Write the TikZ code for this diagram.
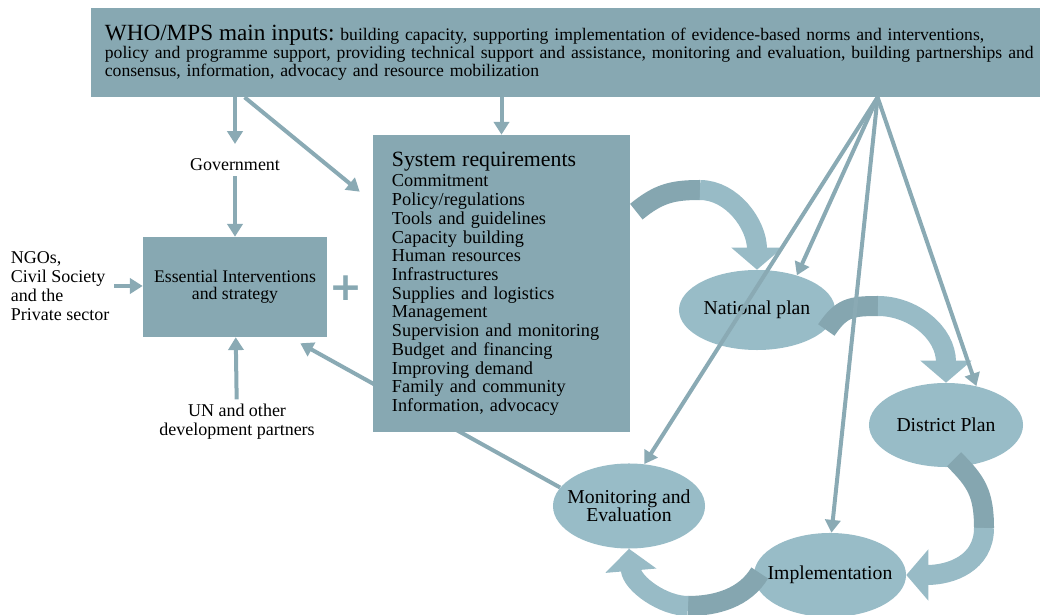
\documentclass[tikz,border=0pt]{standalone}
\usepackage{fontspec}
\setmainfont{Liberation Serif}
\newfontfamily\plusfont{DejaVu Sans}
\usetikzlibrary{arrows.meta,shapes.geometric,calc,backgrounds}
\definecolor{boxblue}{RGB}{135,168,178}
\definecolor{ovalblue}{RGB}{152,188,199}
\definecolor{bendlight}{RGB}{152,187,198}
\definecolor{benddark}{RGB}{133,166,176}
\definecolor{feedblue}{RGB}{138,170,180}
\tikzset{
  panel/.style={fill=boxblue, inner sep=0pt},
  oval/.style={ellipse, fill=ovalblue, inner xsep=-0.6cm, inner ysep=0pt, align=center, font=\fontsize{14}{12.8}\selectfont},
  side/.style={align=center, font=\fontsize{12.8}{13.5}\selectfont},
  feed/.style={draw=feedblue, line width=0.1cm, -{Triangle[width=0.38cm,length=0.32cm]}},
  bendtail/.style={draw=benddark, line width=0.5cm},
  bendhead/.style={draw=bendlight, line width=0.5cm, -{Triangle[width=1.25cm,length=0.55cm]}}
}
\begin{document}
\begin{tikzpicture}[x=0.025cm, y=-0.025cm]
\useasboundingbox (0,0) rectangle (1040,615);
% boxes
\node[panel, minimum width=23.725cm, minimum height=2.225cm, inner xsep=0.35cm, text width=23.025cm, align=left, font=\fontsize{12.55}{12.9}\selectfont] (top) at (565.5,52.5)
  {\mbox{{\fontsize{16.5}{16}\selectfont WHO/MPS main inputs:}\ building capacity, supporting implementation of evidence-based norms and interventions,}\\
   \mbox{policy and programme support, providing technical support and assistance, monitoring and evaluation, building partnerships and}\\
   consensus, information, advocacy and resource mobilization};
\node[panel, minimum width=4.6cm, minimum height=2.5cm, align=center, font=\fontsize{12.6}{12.3}\selectfont] (ess) at (235,287) {Essential Interventions\\and strategy};
\node[panel, minimum width=6.425cm, minimum height=7.425cm, inner xsep=0.475cm, text width=5.475cm, align=left, font=\fontsize{13}{13.3}\selectfont] (sys) at (501.5,283.5)
  {{\fontsize{15.5}{15}\selectfont System requirements}\\[1.6pt]
   Commitment\\ Policy/regulations\\ Tools and guidelines\\ Capacity building\\ Human resources\\ Infrastructures\\
   Supplies and logistics\\ Management\\ Supervision and monitoring\\ Budget and financing\\ Improving demand\\
   Family and community\\ Information, advocacy};
% cycle
\node[oval, minimum width=3.9cm, minimum height=2cm] (nat) at (757,310) {National plan};
\node[oval, minimum width=3.85cm, minimum height=2.1cm] (dis) at (946,425) {District Plan};
\node[oval, minimum width=3.8cm, minimum height=2.1cm] (imp) at (830,575) {Implementation};
\node[oval, minimum width=3.8cm, minimum height=2.125cm] (mon) at (629,506) {Monitoring and\\Evaluation};
% actors
\node[side] (gov) at (235,165) {Government};
\node[side] (un) at (237,422) {UN and other\\development partners};
\node[side, align=left, anchor=west] (ngo) at (6,286) {NGOs,\\Civil Society\\and the\\Private sector};
\node[text=boxblue, font=\plusfont\bfseries\fontsize{28}{28}\selectfont] (plus) at (346,288) {+};
\begin{pgfonlayer}{background}
  \draw[feed] (mon.165) -- ($(ess.south east)+(-27,6)$);
\end{pgfonlayer}
% big bent arrows
\coordinate (b1) at (700,190);
\draw[bendtail] ($(sys.north east)+(6,77)$) .. controls +(22,-18) and +(-28,0) .. (b1);
\draw[bendhead] (b1) .. controls +(32,0) and +(0,-45) .. (nat.north);
\coordinate (b2) at (878,306);
\draw[bendtail] ($(nat.east)+(-9,20)$) .. controls +(15,-22) and +(-28,0) .. (b2);
\draw[bendhead] (b2) .. controls +(35,0) and +(0,-50) .. (dis.north);
\coordinate (b3) at (984,528);
\draw[bendtail] ($(dis.south)+(8,-8)$) .. controls +(22,22) and +(0,-35) .. (b3);
\draw[bendhead] (b3) .. controls +(0,35) and +(45,0) .. (imp.east);
\coordinate (b4) at (688,606);
\draw[bendtail] ($(imp.west)+(6,-2)$) .. controls +(-15,25) and +(28,0) .. (b4);
\draw[bendhead] (b4) .. controls +(-25,0) and +(3,35) .. (mon.south);
% inputs
\draw[feed, shorten >=0.25cm] (top.south -| gov) -- (gov.north);
\draw[feed] (gov) -- (ess);
\draw[feed] (un) -- (ess);
\draw[feed] (ngo.east) -- (ngo.east -| ess.west);
\draw[feed] ($(top.south west)+(154,0)$) -- ($(sys.north west)+(-13,57)$);
\draw[feed] (top.south -| sys.north) -- (sys.north);
\coordinate (hub) at ($(top.south west)+(787,0)$);
\draw[feed] (hub) -- (nat.41);
\draw[feed] (hub) -- (dis.52);
\draw[feed] (hub) -- (imp.88);
\draw[feed] (hub) -- (mon.70);
\end{tikzpicture}
\end{document}
